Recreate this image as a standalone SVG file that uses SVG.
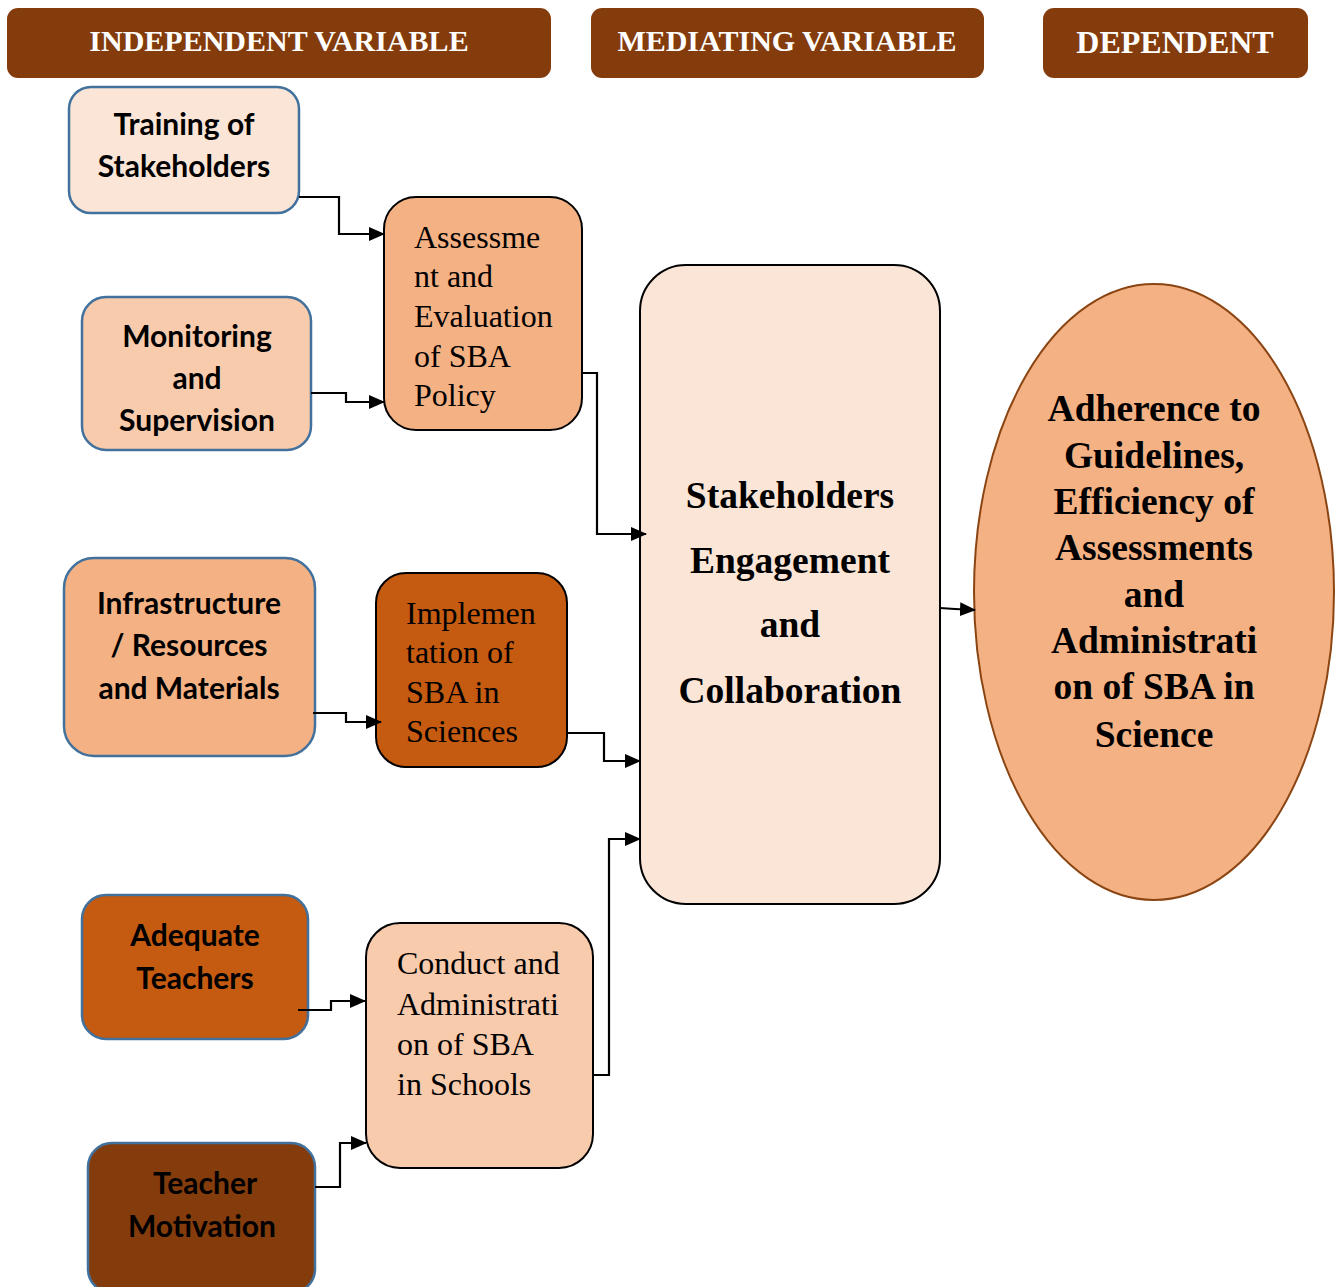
<svg xmlns="http://www.w3.org/2000/svg" width="1343" height="1287" viewBox="0 0 1343 1287">
<defs>
<style>
.hdr{fill:#843C0C}
.htxt{font-family:"Liberation Serif",serif;font-weight:bold;font-size:30px;fill:#ffffff;text-anchor:middle}
.iv{stroke:#41719C;stroke-width:2.5}
.ivt{font-family:Lato,"Open Sans",sans-serif;font-weight:bold;font-size:30px;fill:#000;text-anchor:middle}
.mv{stroke:#000;stroke-width:2}
.mvt{font-family:"Liberation Serif",serif;font-size:32px;fill:#000}
.bt{font-family:"Liberation Serif",serif;font-weight:bold;font-size:37.5px;fill:#000;text-anchor:middle}
.con{fill:none;stroke:#000;stroke-width:2.2}
</style>
<marker id="ah" markerUnits="userSpaceOnUse" markerWidth="16" markerHeight="14" refX="15" refY="7" orient="auto">
<path d="M0,0 L16,7 L0,14 Z" fill="#000"/>
</marker>
</defs>
<rect width="1343" height="1287" fill="#fff"/>
<g id="header-independent"><rect class="hdr" x="7" y="8" width="544" height="70" rx="11"/><text class="htxt" x="279" y="51">INDEPENDENT VARIABLE</text></g>
<g id="header-mediating"><rect class="hdr" x="591" y="8" width="393" height="70" rx="11"/><text class="htxt" x="787" y="51">MEDIATING VARIABLE</text></g>
<g id="header-dependent"><rect class="hdr" x="1043" y="8" width="265" height="70" rx="11"/><text class="htxt" x="1175" y="53" style="font-size:32px">DEPENDENT</text></g>

<g id="training"><rect class="iv" x="69" y="87" width="230" height="126" rx="22" fill="#FBE5D6"/><text class="ivt" x="184" y="135">Training of</text><text class="ivt" x="184" y="177">Stakeholders</text></g>
<g id="monitoring"><rect class="iv" x="82" y="297" width="229" height="153" rx="24" fill="#F8CBAD"/><text class="ivt" x="197" y="347">Monitoring</text><text class="ivt" x="197" y="389">and</text><text class="ivt" x="197" y="431">Supervision</text></g>
<g id="infrastructure"><rect class="iv" x="64" y="558" width="251" height="198" rx="30" fill="#F4B183"/><text class="ivt" x="189" y="614">Infrastructure</text><text class="ivt" x="189" y="656">/ Resources</text><text class="ivt" x="189" y="699">and Materials</text></g>
<g id="adequate"><rect class="iv" x="82" y="895" width="226" height="144" rx="24" fill="#C55A11"/><text class="ivt" x="195" y="946">Adequate</text><text class="ivt" x="195" y="989">Teachers</text></g>
<g id="motivation"><rect class="iv" x="88" y="1143" width="227" height="150" rx="24" fill="#843C0C"/><text class="ivt" x="205" y="1194">Teacher</text><text class="ivt" x="202" y="1237">Motivation</text></g>

<g id="assessment"><rect class="mv" x="384" y="197" width="198" height="233" rx="32" fill="#F4B183"/><text class="mvt" x="414" y="248">Assessme</text><text class="mvt" x="414" y="287">nt and</text><text class="mvt" x="414" y="327">Evaluation</text><text class="mvt" x="414" y="367">of SBA</text><text class="mvt" x="414" y="406">Policy</text></g>
<g id="implementation"><rect class="mv" x="376" y="573" width="191" height="194" rx="30" fill="#C55A11"/><text class="mvt" x="406" y="624">Implemen</text><text class="mvt" x="406" y="663">tation of</text><text class="mvt" x="406" y="703">SBA in</text><text class="mvt" x="406" y="742">Sciences</text></g>
<g id="conduct"><rect class="mv" x="366" y="923" width="227" height="245" rx="34" fill="#F8CBAD"/><text class="mvt" x="397" y="974">Conduct and</text><text class="mvt" x="397" y="1015">Administrati</text><text class="mvt" x="397" y="1055">on of SBA</text><text class="mvt" x="397" y="1095">in Schools</text></g>

<g id="engagement"><rect class="mv" x="640" y="265" width="300" height="639" rx="46" fill="#FBE5D6"/><text class="bt" x="790" y="508">Stakeholders</text><text class="bt" x="790" y="573">Engagement</text><text class="bt" x="790" y="637">and</text><text class="bt" x="790" y="703">Collaboration</text></g>

<g id="adherence"><ellipse cx="1154" cy="592" rx="180" ry="308" fill="#F4B183" stroke="#8B4513" stroke-width="2"/>
<text class="bt" x="1154" y="421">Adherence to</text><text class="bt" x="1154" y="468">Guidelines,</text><text class="bt" x="1154" y="514">Efficiency of</text><text class="bt" x="1154" y="560">Assessments</text><text class="bt" x="1154" y="607">and</text><text class="bt" x="1154" y="653">Administrati</text><text class="bt" x="1154" y="699">on of SBA in</text><text class="bt" x="1154" y="747">Science</text></g>

<g id="connectors">
<polyline class="con" points="299,197 339,197 339,234 384,234" marker-end="url(#ah)"/>
<polyline class="con" points="311,393 346,393 346,402 384,402" marker-end="url(#ah)"/>
<polyline class="con" points="582,373 597,373 597,534 646,534" marker-end="url(#ah)"/>
<polyline class="con" points="313,713 346,713 346,722 381,722" marker-end="url(#ah)"/>
<polyline class="con" points="567,733 604,733 604,761 640,761" marker-end="url(#ah)"/>
<polyline class="con" points="298,1010 331,1010 331,1001 365,1001" marker-end="url(#ah)"/>
<polyline class="con" points="315,1187 340,1187 340,1143 366,1143" marker-end="url(#ah)"/>
<polyline class="con" points="593,1075 609,1075 609,839 640,839" marker-end="url(#ah)"/>
<polyline class="con" points="940,608 955,609 975,610" marker-end="url(#ah)"/>
</g>
</svg>
